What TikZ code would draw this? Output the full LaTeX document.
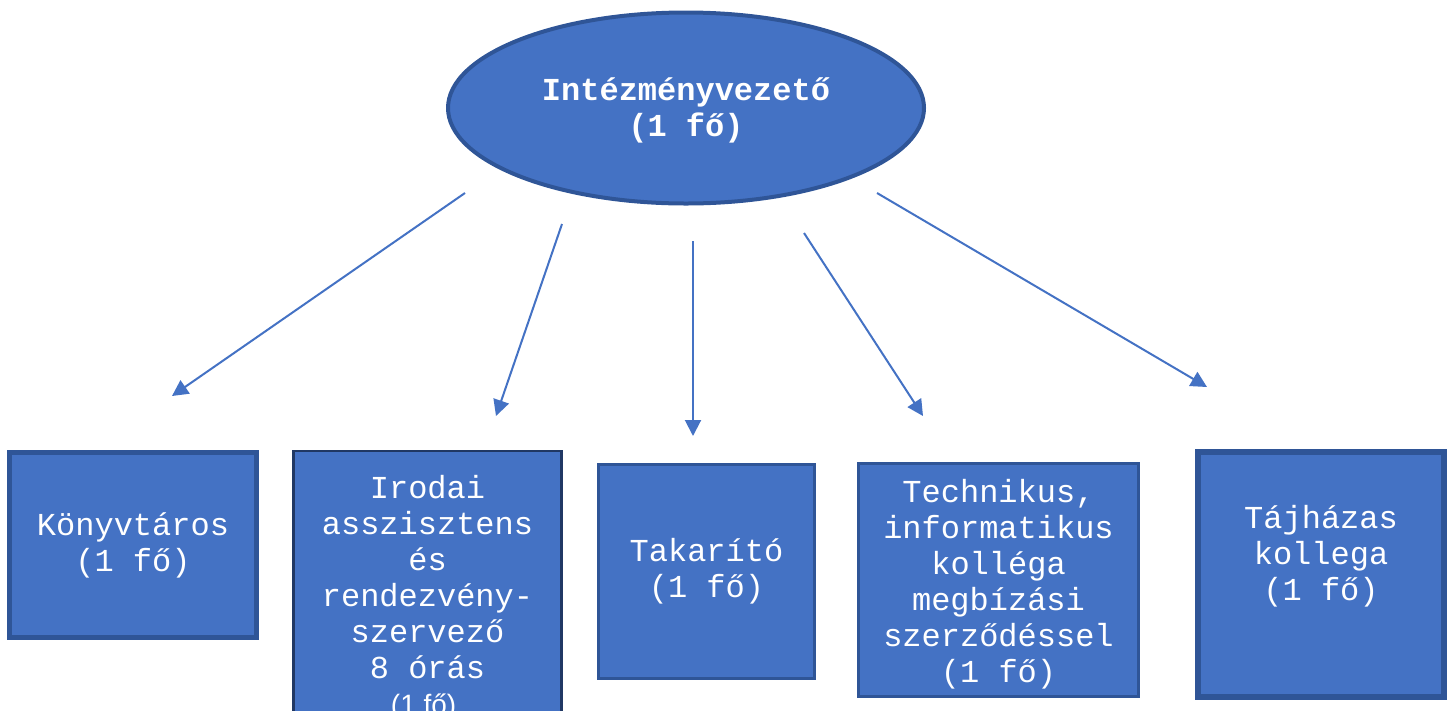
\documentclass[tikz,border=0pt]{standalone}
\usepackage{fontspec}
\newfontfamily\cour{Liberation Mono}
\newfontfamily\sanslast{Liberation Sans}
\usetikzlibrary{shapes.geometric,arrows.meta}
\definecolor{fillblue}{HTML}{4472C4}
\definecolor{edgeblue}{HTML}{2F5597}
\definecolor{navy}{HTML}{203864}
\tikzset{
  boxbase/.style={rectangle, fill=fillblue, inner sep=0pt, text=white, align=center,
    font=\cour\fontsize{32}{36}\selectfont},
  thickbox/.style={boxbase, draw=edgeblue, line width=5pt},
  thinbox/.style={boxbase, draw=edgeblue, line width=2.5pt},
  navybox/.style={boxbase, draw=navy, line width=2.5pt},
  headoval/.style={ellipse, fill=fillblue, draw=edgeblue, line width=4pt, inner sep=0pt,
    text=white, align=center, font=\cour\bfseries\fontsize{32}{36}\selectfont},
  txt/.style={text=white, align=center, font=\cour\fontsize{32}{36}\selectfont},
  link/.style={draw=fillblue, line width=2pt, -{Triangle[length=16pt,width=16pt]}}
}
\begin{document}
\begin{tikzpicture}[x=1pt,y=-1pt]
\useasboundingbox (0,0) rectangle (1453,710);
\node[headoval, minimum width=476pt, minimum height=191pt] (head) at (686,108) {};
\node[txt, font=\cour\bfseries\fontsize{32}{36}\selectfont] (headtxt) at (686,110)
  {Intézményvezető\\(1 fő)};

\node[thickbox, minimum width=247pt, minimum height=185pt] (b1) at (133,545)
  {Könyvtáros\\(1 fő)};
\node[navybox, minimum width=268pt, minimum height=290pt] (b2) at (427.5,596) {};
\node[txt] (t2) at (427.5,598) {Irodai\\asszisztens\\és\\rendezvény-\\szervező\\8 órás\\{\sanslast\fontsize{28}{36}\selectfont(1 fő).}};
\node[thinbox, minimum width=216pt, minimum height=214pt] (b3) at (706.5,571.5)
  {Takarító\\(1 fő)};
\node[thinbox, minimum width=280pt, minimum height=233pt] (b4) at (998.5,580) {};
\node[txt] (t4) at (998.5,584)
  {Technikus,\\informatikus\\kolléga\\megbízási\\szerződéssel\\(1 fő)};
\node[thickbox, line width=6pt, minimum width=246pt, minimum height=245pt] (b5) at (1321,574.5) {};
\node[txt] (t5) at (1321,556) {Tájházas\\kollega\\(1 fő)};

\coordinate (s1) at (465,193);  \coordinate (e1) at (172,396);
\coordinate (s2) at (562,224);  \coordinate (e2) at (496,416);
\coordinate (s3) at (693,241);  \coordinate (e3) at (693,436);
\coordinate (s4) at (804,233);  \coordinate (e4) at (923,416);
\coordinate (s5) at (877,193);  \coordinate (e5) at (1207,387);
\draw[link] (s1) -- (e1);
\draw[link] (s2) -- (e2);
\draw[link] (s3) -- (e3);
\draw[link] (s4) -- (e4);
\draw[link] (s5) -- (e5);
\end{tikzpicture}
\end{document}
